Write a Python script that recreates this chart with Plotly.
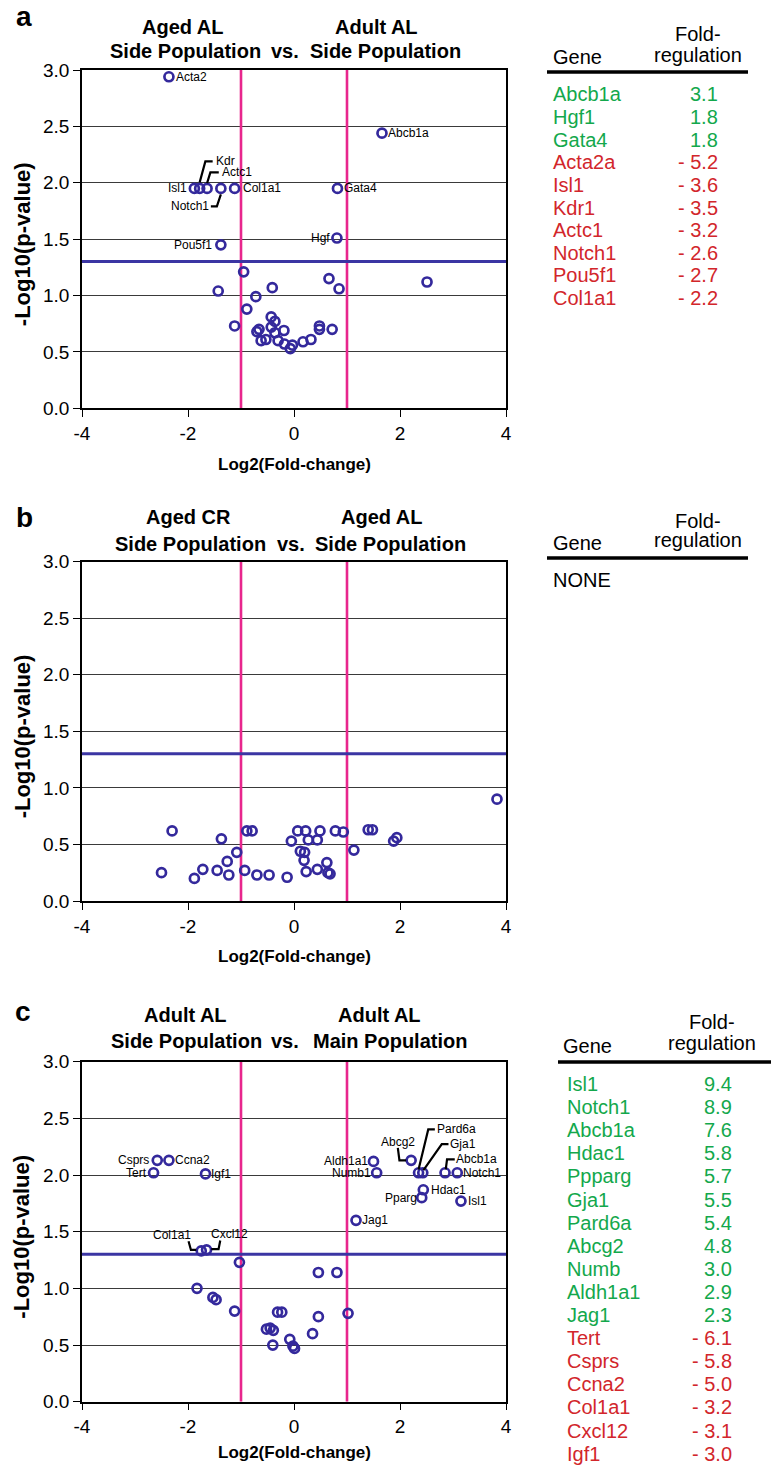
import plotly.graph_objects as go

W, H = 771, 1465
FONT = "Liberation Sans, Arial, Helvetica, sans-serif"

# ---------------- data ----------------
X_TICKS = [-4, -2, 0, 2, 4]
X_TICK_TEXT = ["-4", "-2", "0", "2", "4"]
Y_TICKS = [0.0, 0.5, 1.0, 1.5, 2.0, 2.5, 3.0]
FC_LINES = [-1.0, 1.0]
P_LINE = 1.301

# Panel a: Aged AL SP vs Adult AL SP
a_genes = ["Acta2", "Abcb1a", "Isl1", "Kdr", "Actc1", "Notch1", "Col1a1", "Gata4", "Hgf", "Pou5f1",
           "", "", "", "", "", "", "", "", "", "", "", "", "", "", "", "", "", "", "", "", "", "", "", "", "", "", ""]
a_x = [-2.36, 1.66, -1.88, -1.78, -1.64, -1.38, -1.12, 0.82, 0.81, -1.38,
       -0.95, -1.43, -0.41, -0.72, -0.89, -1.12, -0.43, -0.36, -0.43, -0.70, -0.66, -0.36, -0.19,
       -0.62, -0.53, -0.30, -0.18, -0.07, -0.03, 0.17, 0.32, 0.48, 0.48, 0.72, 0.66, 0.85, 2.51]
a_y = [2.94, 2.44, 1.95, 1.95, 1.95, 1.95, 1.95, 1.95, 1.51, 1.45,
       1.21, 1.04, 1.07, 0.99, 0.88, 0.73, 0.81, 0.77, 0.72, 0.68, 0.70, 0.67, 0.69,
       0.60, 0.61, 0.60, 0.57, 0.53, 0.56, 0.59, 0.61, 0.70, 0.73, 0.70, 1.15, 1.06, 1.12]

# Panel b: Aged CR SP vs Aged AL SP
b_x = [-2.50, -2.30, -1.88, -1.72, -1.45, -1.37, -1.26, -1.23, -1.08, -0.93, -0.89, -0.79,
       -0.70, -0.47, -0.13, -0.05, 0.07, 0.22, 0.12, 0.20, 0.19, 0.23, 0.27, 0.44, 0.49,
       0.44, 0.62, 0.64, 0.68, 0.78, 0.93, 1.13, 1.40, 1.48, 1.88, 1.94, 3.83]
b_y = [0.25, 0.62, 0.20, 0.28, 0.27, 0.55, 0.35, 0.23, 0.43, 0.27, 0.62, 0.62,
       0.23, 0.23, 0.21, 0.53, 0.62, 0.62, 0.44, 0.43, 0.36, 0.26, 0.54, 0.54, 0.62,
       0.28, 0.34, 0.25, 0.24, 0.62, 0.61, 0.45, 0.63, 0.63, 0.53, 0.56, 0.90]

# Panel c: Adult AL SP vs Adult AL MP
c_genes = ["Csprs", "Ccna2", "Tert", "Igf1", "Aldh1a1", "Numb1", "Abcg2", "Pard6a", "Gja1", "Abcb1a",
           "Notch1", "Hdac1", "Pparg", "Isl1", "Jag1", "Col1a1", "Cxcl12",
           "", "", "", "", "", "", "", "", "", "", "", "", "", "", "", "", "", "", ""]
c_x = [-2.58, -2.36, -2.65, -1.67, 1.50, 1.56, 2.21, 2.35, 2.43, 2.85,
       3.08, 2.44, 2.41, 3.15, 1.17, -1.75, -1.65,
       -1.03, -1.83, -1.53, -1.47, -1.12, -0.31, -0.23, 0.46, 0.81, 0.46, 1.02,
       -0.52, -0.45, -0.39, -0.40, -0.08, -0.02, 0.01, 0.35]
c_y = [2.13, 2.13, 2.02, 2.01, 2.12, 2.02, 2.13, 2.02, 2.02, 2.02,
       2.02, 1.87, 1.80, 1.77, 1.60, 1.33, 1.34,
       1.23, 1.00, 0.92, 0.90, 0.80, 0.79, 0.79, 1.14, 1.14, 0.75, 0.78,
       0.64, 0.65, 0.63, 0.50, 0.55, 0.49, 0.47, 0.60]

# tables
a_tab_genes = ["Abcb1a", "Hgf1", "Gata4", "Acta2a", "Isl1", "Kdr1", "Actc1", "Notch1", "Pou5f1", "Col1a1"]
a_tab_vals = [3.1, 1.8, 1.8, -5.2, -3.6, -3.5, -3.2, -2.6, -2.7, -2.2]
c_tab_genes = ["Isl1", "Notch1", "Abcb1a", "Hdac1", "Ppparg", "Gja1", "Pard6a", "Abcg2", "Numb",
               "Aldh1a1", "Jag1", "Tert", "Csprs", "Ccna2", "Col1a1", "Cxcl12", "Igf1"]
c_tab_vals = [9.4, 8.9, 7.6, 5.8, 5.7, 5.5, 5.4, 4.8, 3.0, 2.9, 2.3, -6.1, -5.8, -5.0, -3.2, -3.1, -3.0]

# ---------------- styles ----------------
MARKER_COLOR = "#34299c"
PINK = "#e8268d"
GREEN = "#13a84c"
RED = "#d2262b"

# label placement (pixel offsets from point, y downward): side, dx, dy, leader path
A_LABELS = {
    "Acta2": ("r", 6, 0, None),
    "Abcb1a": ("r", 5, 0, None),
    "Isl1": ("l", -6, 0, None),
    "Kdr": ("r", 15, -27, [(0, -6), (5.7, -27), (13, -27)]),
    "Actc1": ("r", 14, -16, [(0, -5.3), (3.3, -16), (11.7, -16)]),
    "Notch1": ("l", -11, 18, [(0, 6), (-4, 18), (-10, 18)]),
    "Col1a1": ("r", 7, 0, None),
    "Gata4": ("r", 6, 0, None),
    "Hgf": ("l", -6, 0, None),
    "Pou5f1": ("l", -8, 0, None),
}
C_LABELS = {
    "Csprs": ("l", -7, 0, None),
    "Ccna2": ("r", 5, 0, None),
    "Tert": ("l", -6, 0, None),
    "Igf1": ("r", 5, 0, None),
    "Aldh1a1": ("l", -5, 0, None),
    "Numb1": ("l", -5, 0, None),
    "Abcg2": ("c", -13.5, -18.5, [(-13.3, -12.4), (-11.7, 0), (-5, 0)]),
    "Pard6a": ("r", 17.7, -43.3, [(0, -3.3), (9.7, -43.3), (16.3, -43.3)]),
    "Gja1": ("r", 26.3, -28.7, [(0.7, -2.7), (19, -28.7), (25.7, -28.7)]),
    "Abcb1a": ("r", 10.3, -13.3, [(0.7, -3.3), (2, -13.3), (9.7, -13.3)]),
    "Notch1": ("r", 5, 0, None),
    "Hdac1": ("r", 6.5, 0, None),
    "Pparg": ("l", -4, 0, None),
    "Isl1": ("r", 5.7, 0, None),
    "Jag1": ("r", 5, 0, None),
    "Col1a1": ("c", -29.7, -16.3, [(-12.7, -9.7), (-10.3, -1), (-5, -1)]),
    "Cxcl12": ("c", 23, -16, [(13.7, -9.3), (12, -0.7), (4.7, -0.7)]),
}


def px(x):
    return x / W


def py(y):
    return 1 - y / H


XDOM = [px(82), px(506)]
PANELS = [  # (top px, bottom px, x-title centre px)
    (70.0, 408.3, 464.5),
    (561.7, 901.0, 956.5),
    (1061.7, 1401.7, 1452.5),
]

fig = go.Figure()
annotations = []
shapes = []

panel_data = [(a_x, a_y, a_genes, A_LABELS), (b_x, b_y, None, None), (c_x, c_y, c_genes, C_LABELS)]

for i, ((top, bot, xt), (xs, ys, genes, labels)) in enumerate(zip(PANELS, panel_data)):
    n = "" if i == 0 else str(i + 1)
    xa, ya = "x" + n, "y" + n
    ax_common = dict(showline=True, linecolor="black", linewidth=1.5, mirror=True, zeroline=False,
                     ticks="outside", ticklen=7, tickwidth=1.3, tickcolor="black",
                     tickfont=dict(family=FONT, size=19, color="black"))
    fig.layout["xaxis" + n] = dict(domain=XDOM, range=[-4, 4], tickvals=X_TICKS, ticktext=X_TICK_TEXT,
                                   showgrid=False, anchor=ya, **ax_common)
    fig.layout["yaxis" + n] = dict(domain=[py(bot), py(top)], range=[0, 3], tickvals=Y_TICKS,
                                   tickformat=".1f", showgrid=True, gridcolor="#3a3a3a", gridwidth=1,
                                   anchor=xa, **ax_common)
    # threshold lines as traces (drawn under the markers)
    for fc in FC_LINES:
        fig.add_trace(go.Scatter(x=[fc, fc], y=[0, 3], mode="lines", xaxis=xa, yaxis=ya, showlegend=False,
                                 hoverinfo="skip", line=dict(color=PINK, width=2.6)))
    fig.add_trace(go.Scatter(x=[-4, 4], y=[P_LINE, P_LINE], mode="lines", xaxis=xa, yaxis=ya, showlegend=False,
                             hoverinfo="skip", line=dict(color="#3b35a3", width=3)))
    fig.add_trace(go.Scatter(
        x=xs, y=ys, mode="markers", xaxis=xa, yaxis=ya, showlegend=False, hoverinfo="skip",
        marker=dict(symbol="circle-open", size=9, color=MARKER_COLOR, line=dict(width=2.7, color=MARKER_COLOR)),
    ))
    # axis titles
    annotations.append(dict(xref="paper", yref="paper", x=px(294), y=py(xt), text="<b>Log2(Fold-change)</b>",
                            showarrow=False, font=dict(family=FONT, size=17, color="black"),
                            xanchor="center", yanchor="middle"))
    annotations.append(dict(xref="paper", yref="paper", x=px(22), y=py((top + bot) / 2 + 5),
                            text="<b>-Log10(p-value)</b>", textangle=-90, showarrow=False,
                            font=dict(family=FONT, size=22, color="black"), xanchor="center", yanchor="middle"))
    # point labels
    if genes is not None:
        for g, x, y in zip(genes, xs, ys):
            if not g or g not in labels:
                continue
            side, dx, dy, path = labels[g]
            anchor = {"r": "left", "l": "right", "c": "center"}[side]
            annotations.append(dict(xref=xa, yref=ya, x=x, y=y, text=g, showarrow=False,
                                    xanchor=anchor, yanchor="middle", xshift=dx, yshift=-dy,
                                    font=dict(family=FONT, size=12, color="black"), borderpad=0))
            if path:
                d = "M" + " L".join(f"{p[0]},{-p[1]}" for p in path)
                shapes.append(dict(type="path", xref=xa, yref=ya, xsizemode="pixel", ysizemode="pixel",
                                   xanchor=x, yanchor=y, path=d, line=dict(color="black", width=2.2)))

# panel titles
TITLE_FONT = dict(family=FONT, size=20, color="black")
titles = [
    ("a", 24, 17, [("Aged AL", 182, 27), ("Adult AL", 376, 27),
                   ("Side Population", 185, 51), ("vs.", 285, 51), ("Side Population", 385, 51)]),
    ("b", 24, 517, [("Aged CR", 188, 517), ("Aged AL", 381, 517),
                    ("Side Population", 190.5, 544), ("vs.", 291, 544), ("Side Population", 390, 544)]),
    ("c", 23, 1011, [("Adult AL", 185, 1015), ("Adult AL", 379, 1015),
                     ("Side Population", 186, 1041), ("vs.", 285, 1041), ("Main Population", 390, 1041)]),
]
for letter, lx, ly, items in titles:
    annotations.append(dict(xref="paper", yref="paper", x=px(lx), y=py(ly), text=f"<b>{letter}</b>",
                            showarrow=False, font=dict(family=FONT, size=28, color="black"),
                            xanchor="center", yanchor="middle"))
    for txt, tx, ty in items:
        annotations.append(dict(xref="paper", yref="paper", x=px(tx), y=py(ty), text=f"<b>{txt}</b>",
                                showarrow=False, font=TITLE_FONT, xanchor="center", yanchor="middle"))

# tables
TAB_FONT = dict(family=FONT, size=20, color="black")


def table_header(gene_x, fold_x, y_fold, y_reg, y_gene, line_y, lx0, lx1):
    annotations.append(dict(xref="paper", yref="paper", x=px(gene_x), y=py(y_gene), text="Gene",
                            showarrow=False, font=TAB_FONT, xanchor="left", yanchor="middle"))
    annotations.append(dict(xref="paper", yref="paper", x=px(fold_x), y=py(y_fold), text="Fold-",
                            showarrow=False, font=TAB_FONT, xanchor="center", yanchor="middle"))
    annotations.append(dict(xref="paper", yref="paper", x=px(fold_x), y=py(y_reg), text="regulation",
                            showarrow=False, font=TAB_FONT, xanchor="center", yanchor="middle"))
    shapes.append(dict(type="line", xref="paper", yref="paper", x0=px(lx0), x1=px(lx1), y0=py(line_y),
                       y1=py(line_y), line=dict(color="black", width=3.5)))


def table_rows(genes, vals, gene_x, val_x, y0, dy):
    for k, (g, v) in enumerate(zip(genes, vals)):
        col = GREEN if v > 0 else RED
        vt = f"{v:.1f}" if v > 0 else f"- {abs(v):.1f}"
        yy = y0 + k * dy
        annotations.append(dict(xref="paper", yref="paper", x=px(gene_x), y=py(yy), text=g, showarrow=False,
                                font=dict(family=FONT, size=20, color=col), xanchor="left", yanchor="middle"))
        annotations.append(dict(xref="paper", yref="paper", x=px(val_x), y=py(yy), text=vt, showarrow=False,
                                font=dict(family=FONT, size=20, color=col), xanchor="right", yanchor="middle"))


table_header(551, 698, 34, 55, 57, 72, 547, 748)
table_rows(a_tab_genes, a_tab_vals, 551, 720, 94.5, 22.6)

table_header(551, 698, 521, 540, 543, 558, 547, 748)
annotations.append(dict(xref="paper", yref="paper", x=px(551), y=py(580), text="NONE", showarrow=False,
                        font=TAB_FONT, xanchor="left", yanchor="middle"))

table_header(561, 712, 1022, 1043, 1046, 1062, 558, 771)
table_rows(c_tab_genes, c_tab_vals, 565, 734, 1084, 23.1)

fig.update_layout(
    width=W, height=H, margin=dict(l=0, r=0, t=0, b=0, autoexpand=False),
    paper_bgcolor="white", plot_bgcolor="white", showlegend=False,
    annotations=annotations, shapes=shapes,
)

# remove the page's default body margin so the figure fills the window exactly
fig.write_html("out.html", config={"displayModeBar": False},
               post_script="document.body.style.margin='0px';"
                           "document.documentElement.style.overflow='hidden';")
